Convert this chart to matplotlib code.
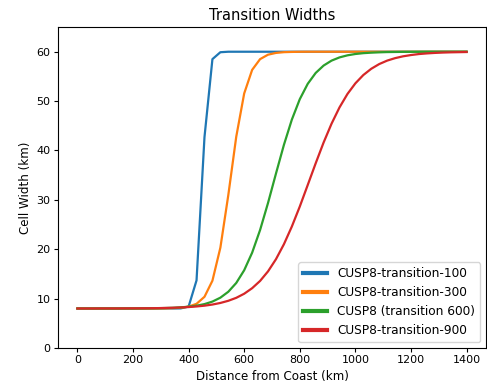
import matplotlib
matplotlib.use('Agg')

import numpy as np
import matplotlib.pyplot as plt

# distance from coast (km), 50 samples
distance = np.linspace(0, 1400, 50)

# cell widths (km)
width_100 = [8.0] * 13 + [8.02, 8.39, 13.7, 42.7, 58.5, 59.9] + [60.0] * 31

width_300 = [8.0] * 10 + [8.01, 8.02, 8.06, 8.15, 8.38, 8.95, 10.37, 13.63, 20.31,
                          30.97, 42.79, 51.55, 56.32, 58.50, 59.40, 59.76, 59.91,
                          59.96, 59.99] + [60.0] * 21

width_600 = [8.0] * 8 + [8.02, 8.04, 8.06, 8.09, 8.14, 8.23, 8.36, 8.57, 8.89, 9.40,
                         10.19, 11.39, 13.17, 15.75, 19.30, 23.89, 29.37, 35.32,
                         41.13, 46.25, 50.39, 53.50, 55.70, 57.20, 58.20, 58.85,
                         59.27, 59.54, 59.71, 59.81, 59.88, 59.93, 59.95, 59.97,
                         59.98, 59.99] + [60.0] * 6

width_900 = [8.0, 8.0, 8.0, 8.01, 8.01, 8.01, 8.02, 8.03, 8.04, 8.05, 8.07, 8.11,
             8.15, 8.21, 8.29, 8.41, 8.57, 8.80, 9.12, 9.56, 10.16, 10.99, 12.11,
             13.58, 15.52, 17.98, 21.01, 24.60, 28.65, 33.01, 37.40, 41.62, 45.43,
             48.72, 51.44, 53.60, 55.28, 56.55, 57.50, 58.20, 58.70, 59.07, 59.33,
             59.53, 59.66, 59.76, 59.83, 59.88, 59.91, 59.94]

series = [
    ("CUSP8-transition-100", width_100),
    ("CUSP8-transition-300", width_300),
    ("CUSP8 (transition 600)", width_600),
    ("CUSP8-transition-900", width_900),
]

plt.rcParams['xtick.labelsize'] = 8
plt.rcParams['ytick.labelsize'] = 8
plt.rcParams['xtick.major.size'] = 2.7
plt.rcParams['ytick.major.size'] = 2.7
plt.rcParams['xtick.major.pad'] = 2.7
plt.rcParams['ytick.major.pad'] = 2.7
plt.rcParams['axes.linewidth'] = 0.8

fig = plt.figure(figsize=(4.87, 3.83), dpi=100)
ax = fig.add_axes([0.119, 0.0914, 0.879, 0.838])

for label, w in series:
    ax.plot(distance, w, label=label, linewidth=1.6)

ax.set_ylim(0, 65)
ax.set_xlim(-70, 1470)
ax.set_xlabel("Distance from Coast (km)", fontsize=8.6, labelpad=3)
ax.set_ylabel("Cell Width (km)", fontsize=8.6, labelpad=3)
ax.set_title("Transition Widths", fontsize=10.5, pad=5)
leg = ax.legend(loc="lower right", fontsize=8.7)
for line in leg.get_lines():
    line.set_linewidth(3)

fig.savefig("out.png", dpi=100)
